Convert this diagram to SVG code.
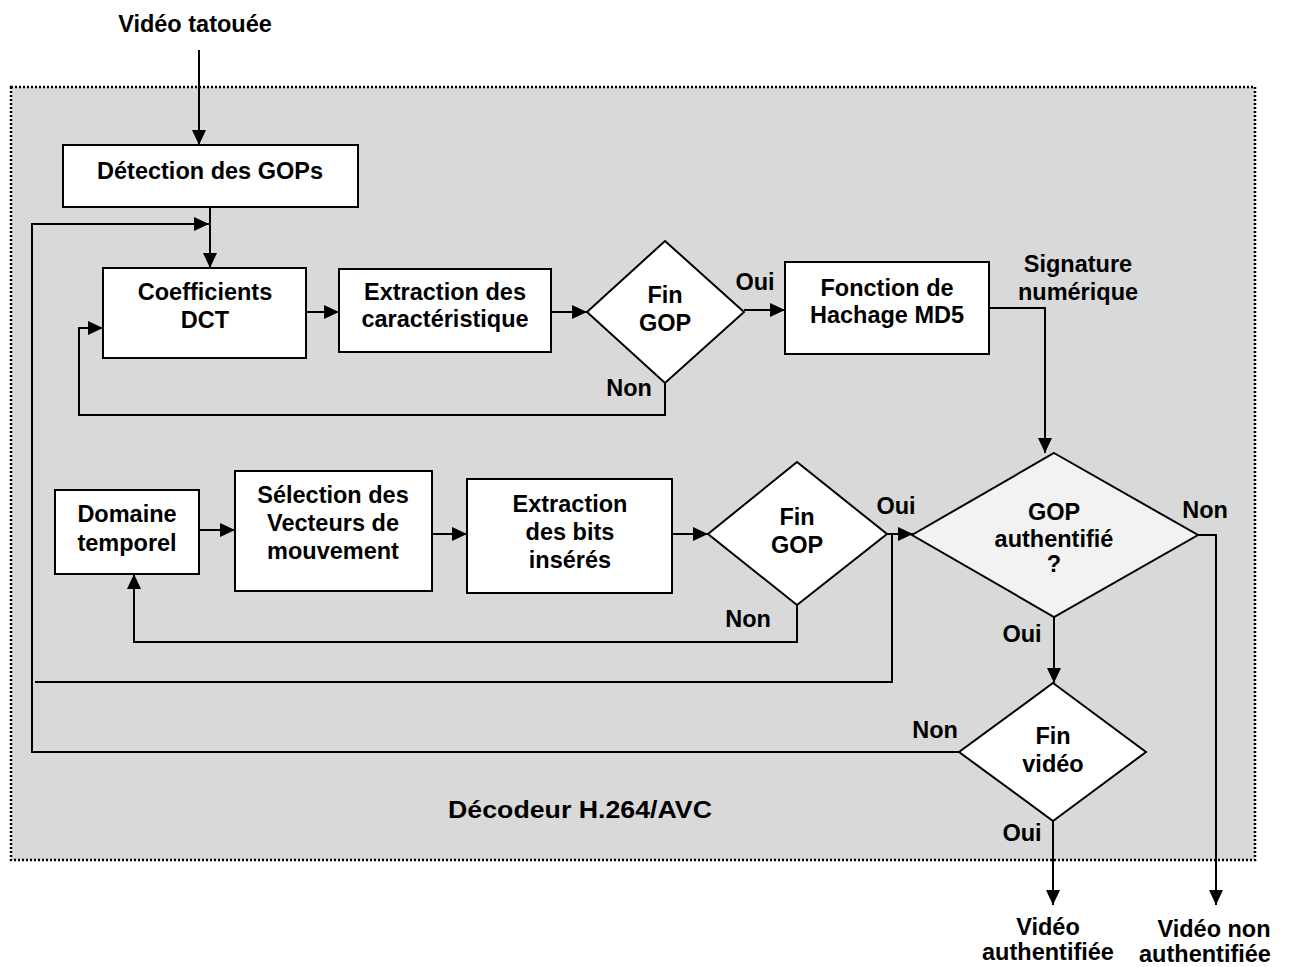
<svg xmlns="http://www.w3.org/2000/svg" width="1289" height="967" viewBox="0 0 1289 967">
<style>
text{font-family:"Liberation Sans",Arial,sans-serif;font-weight:bold;font-size:23.5px;fill:#000;text-anchor:middle}
.box{fill:#fff;stroke:#000;stroke-width:2}
.dia{fill:#fff;stroke:#000;stroke-width:2}
.con{fill:none;stroke:#000;stroke-width:2}
</style>
<defs>
<marker id="arr" markerUnits="userSpaceOnUse" markerWidth="16" markerHeight="15" refX="15" refY="7" orient="auto">
<path d="M0,0 L15,7 L0,14 z" fill="#000"/>
</marker>
</defs>
<rect width="1289" height="967" fill="#fff"/>
<g id="decoder">
<rect x="11" y="87" width="1244" height="773" fill="#d9d9d9" stroke="#000" stroke-width="2.5" stroke-dasharray="2,2"/>
<text x="580" y="818" textLength="264" lengthAdjust="spacingAndGlyphs">Décodeur H.264/AVC</text>
</g>
<g id="connectors">
<path class="con" d="M199,50 V145" marker-end="url(#arr)"/>
<path class="con" d="M210,207 V268" marker-end="url(#arr)"/>
<path class="con" d="M959,752 H32 V224 H209" marker-end="url(#arr)"/>
<path class="con" d="M306,312 H339" marker-end="url(#arr)"/>
<path class="con" d="M551,312 H587" marker-end="url(#arr)"/>
<path class="con" d="M744,310 H785" marker-end="url(#arr)"/>
<path class="con" d="M665,383 V415 H79 V328 H103" marker-end="url(#arr)"/>
<path class="con" d="M989,308 H1045 V453" marker-end="url(#arr)"/>
<path class="con" d="M199,530 H235" marker-end="url(#arr)"/>
<path class="con" d="M432,534 H467" marker-end="url(#arr)"/>
<path class="con" d="M672,534 H708" marker-end="url(#arr)"/>
<path class="con" d="M887,534 H913" marker-end="url(#arr)"/>
<path class="con" d="M892,534 V682 H35"/>
<path class="con" d="M797,605 V642 H134 V574" marker-end="url(#arr)"/>
<path class="con" d="M1054,617 V683" marker-end="url(#arr)"/>
<path class="con" d="M1198,535 H1216 V905" marker-end="url(#arr)"/>
<path class="con" d="M1053,821 V905" marker-end="url(#arr)"/>
</g>
<g id="labels">
<text x="195" y="32">Vidéo tatouée</text>
<text x="755" y="290">Oui</text>
<text x="629" y="396">Non</text>
<text x="1078" y="272">Signature</text>
<text x="1078" y="300">numérique</text>
<text x="896" y="514">Oui</text>
<text x="748" y="627">Non</text>
<text x="1205" y="518">Non</text>
<text x="1022" y="642">Oui</text>
<text x="935" y="738">Non</text>
<text x="1022" y="841">Oui</text>
<text x="1048" y="935">Vidéo</text>
<text x="1048" y="960">authentifiée</text>
<text x="1214" y="937">Vidéo non</text>
<text x="1205" y="962">authentifiée</text>
</g>
<g id="det">
<rect class="box" x="63" y="145" width="295" height="62"/>
<text x="210" y="179">Détection des GOPs</text>
</g>
<g id="coef">
<rect class="box" x="103" y="268" width="203" height="90"/>
<text x="205" y="300">Coefficients</text>
<text x="205" y="328">DCT</text>
</g>
<g id="extr1">
<rect class="box" x="339" y="269" width="212" height="83"/>
<text x="445" y="300">Extraction des</text>
<text x="445" y="327">caractéristique</text>
</g>
<g id="fin1">
<polygon class="dia" points="665,241 744,312 665,383 587,312"/>
<text x="665" y="303">Fin</text>
<text x="665" y="331">GOP</text>
</g>
<g id="hach">
<rect class="box" x="785" y="262" width="204" height="92"/>
<text x="887" y="296">Fonction de</text>
<text x="887" y="323">Hachage MD5</text>
</g>
<g id="dom">
<rect class="box" x="55" y="490" width="144" height="84"/>
<text x="127" y="522">Domaine</text>
<text x="127" y="551">temporel</text>
</g>
<g id="sel">
<rect class="box" x="235" y="471" width="197" height="120"/>
<text x="333" y="503">Sélection des</text>
<text x="333" y="531">Vecteurs de</text>
<text x="333" y="559">mouvement</text>
</g>
<g id="extr2">
<rect class="box" x="467" y="479" width="205" height="114"/>
<text x="570" y="512">Extraction</text>
<text x="570" y="540">des bits</text>
<text x="570" y="568">insérés</text>
</g>
<g id="fin2">
<polygon class="dia" points="797,462 887,534 797,605 708,534"/>
<text x="797" y="525">Fin</text>
<text x="797" y="553">GOP</text>
</g>
<g id="auth">
<polygon class="dia" style="fill:#f2f2f2" points="1054,453 1198,535 1054,617 912,535"/>
<text x="1054" y="520">GOP</text>
<text x="1054" y="547">authentifié</text>
<text x="1054" y="572">?</text>
</g>
<g id="finv">
<polygon class="dia" points="1053,683 1146,752 1053,821 959,752"/>
<text x="1053" y="744">Fin</text>
<text x="1053" y="772">vidéo</text>
</g>
</svg>
